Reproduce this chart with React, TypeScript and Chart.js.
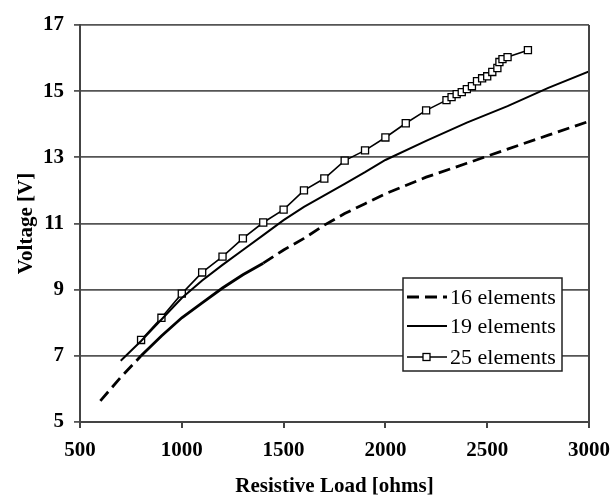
import React, { useEffect, useRef } from "react";
import { Chart, registerables } from "chart.js";

Chart.register(...registerables);

const loads16 = [600, 700, 800, 900, 1000, 1100, 1200, 1300, 1400, 1500, 1600, 1700, 1800, 1900, 2000, 2200, 2400, 2600, 2800, 3000];
const volts16 = [5.64, 6.35, 7.0, 7.6, 8.15, 8.6, 9.05, 9.45, 9.8, 10.2, 10.55, 10.95, 11.3, 11.6, 11.9, 12.4, 12.82, 13.25, 13.67, 14.09];

const loads19 = [700, 800, 900, 1000, 1100, 1200, 1300, 1400, 1500, 1600, 1700, 1800, 1900, 2000, 2200, 2400, 2600, 2800, 3000];
const volts19 = [6.85, 7.45, 8.1, 8.75, 9.28, 9.75, 10.2, 10.65, 11.1, 11.5, 11.85, 12.2, 12.55, 12.92, 13.5, 14.05, 14.55, 15.1, 15.6];

const loads25 = [800, 900, 1000, 1100, 1200, 1300, 1400, 1500, 1600, 1700, 1800, 1900, 2000, 2100, 2200, 2300, 2325, 2350, 2375, 2400, 2425, 2450, 2475, 2500, 2525, 2550, 2560, 2575, 2600, 2700];
const volts25 = [7.48, 8.15, 8.88, 9.52, 10.0, 10.55, 11.03, 11.42, 12.0, 12.36, 12.9, 13.21, 13.6, 14.03, 14.42, 14.73, 14.82, 14.91, 14.97, 15.06, 15.15, 15.3, 15.39, 15.45, 15.58, 15.7, 15.88, 15.97, 16.03, 16.24];

const seriesLabels = ["16 elements", "19 elements", "25 elements"];
const xTitle = "Resistive Load [ohms]";
const yTitle = "Voltage [V]";

const toXY = (xs: number[], ys: number[]) => xs.map((x, i) => ({ x, y: ys[i] }));

const SERIF = "'Liberation Serif', 'Times New Roman', serif";

const frameAndLegend = {
  id: "frameAndLegend",
  afterDraw(chart: any) {
    const { ctx, chartArea } = chart;
    ctx.save();
    // right border
    ctx.strokeStyle = "#444";
    ctx.lineWidth = 2;
    ctx.beginPath();
    ctx.moveTo(chartArea.right, chartArea.top);
    ctx.lineTo(chartArea.right, chartArea.bottom);
    ctx.stroke();

    // legend box
    const bx = chartArea.left + 323;
    const by = chartArea.top + 253;
    const bw = 159;
    const bh = 93;
    ctx.fillStyle = "#fff";
    ctx.fillRect(bx, by, bw, bh);
    ctx.strokeStyle = "#222";
    ctx.lineWidth = 1.5;
    ctx.strokeRect(bx, by, bw, bh);

    const rows = [19, 48, 79];
    const ds = chart.data.datasets;
    ctx.font = `22px ${SERIF}`;
    ctx.textBaseline = "middle";
    ctx.textAlign = "left";
    ds.forEach((d: any, i: number) => {
      const y = by + rows[i];
      const x0 = bx + 4;
      const x1 = bx + 44;
      ctx.strokeStyle = "#000";
      ctx.lineWidth = d.borderWidth;
      ctx.setLineDash(i === 0 ? [12, 6] : []);
      ctx.beginPath();
      ctx.moveTo(x0, y);
      ctx.lineTo(x1, y);
      ctx.stroke();
      ctx.setLineDash([]);
      if (i === 2) {
        ctx.fillStyle = "#fff";
        ctx.lineWidth = 1.3;
        ctx.fillRect(x0 + 16, y - 3.5, 7, 7);
        ctx.strokeRect(x0 + 16, y - 3.5, 7, 7);
      }
      ctx.fillStyle = "#000";
      ctx.fillText(d.label, bx + 47, y + 1);
    });
    ctx.restore();
  },
};

export default function App() {
  const ref = useRef<HTMLCanvasElement | null>(null);

  useEffect(() => {
    document.body.style.margin = "0";
    if (!ref.current) return;
    const chart = new Chart(ref.current, {
      type: "scatter",
      data: {
        datasets: [
          {
            label: seriesLabels[0],
            data: toXY(loads16, volts16),
            showLine: true,
            borderColor: "#000",
            borderWidth: 2.8,
            pointRadius: 0,
            borderDash: [12, 6],
            segment: {
              borderDash: (c: any) =>
                c.p0.parsed.x >= 800 && c.p1.parsed.x <= 1400 ? [] : [12, 6],
            },
          },
          {
            label: seriesLabels[1],
            data: toXY(loads19, volts19),
            showLine: true,
            borderColor: "#000",
            borderWidth: 2,
            pointRadius: 0,
          },
          {
            label: seriesLabels[2],
            data: toXY(loads25, volts25),
            showLine: true,
            borderColor: "#000",
            borderWidth: 1.6,
            pointStyle: "rect",
            pointRadius: 5,
            pointBorderWidth: 1.3,
            pointBackgroundColor: "#fff",
            pointBorderColor: "#000",
          },
        ],
      },
      options: {
        responsive: false,
        animation: false,
        layout: { padding: { top: 25, right: 23, left: 0, bottom: 0 } },
        plugins: { legend: { display: false }, tooltip: { enabled: false } },
        scales: {
          x: {
            type: "linear",
            min: 500,
            max: 3000,
            ticks: {
              stepSize: 500,
              color: "#000",
              padding: 10,
              font: { family: SERIF, size: 21, weight: "bold" },
              callback: (v: any) => String(v),
            },
            grid: { drawOnChartArea: false, drawTicks: true, tickLength: 6, color: "#444", lineWidth: 2 },
            border: { color: "#444", width: 2 },
            title: {
              display: true,
              text: xTitle,
              color: "#000",
              padding: { top: 4, bottom: 4 },
              font: { family: SERIF, size: 21, weight: "bold" },
            },
            afterFit: (s: any) => {
              s.height = 81;
              s.paddingLeft = 0;
              s.paddingRight = 0;
            },
          },
          y: {
            type: "linear",
            min: 5,
            max: 17,
            ticks: {
              stepSize: 2,
              color: "#000",
              padding: 10,
              font: { family: SERIF, size: 21, weight: "bold" },
              callback: (v: any) => String(v),
            },
            grid: { drawOnChartArea: true, drawTicks: true, tickLength: 6, color: "#555", lineWidth: 1.8 },
            border: { color: "#444", width: 2 },
            title: {
              display: true,
              text: yTitle,
              color: "#000",
              padding: { top: 14, bottom: 0 },
              font: { family: SERIF, size: 21, weight: "bold" },
            },
            afterFit: (s: any) => {
              s.width = 80;
              s.paddingTop = 0;
              s.paddingBottom = 0;
            },
          },
        },
      },
      plugins: [frameAndLegend],
    });
    return () => chart.destroy();
  }, []);

  return (
    <div style={{ width: 612, height: 503, background: "#fff" }}>
      <canvas ref={ref} width={612} height={503} />
    </div>
  );
}
